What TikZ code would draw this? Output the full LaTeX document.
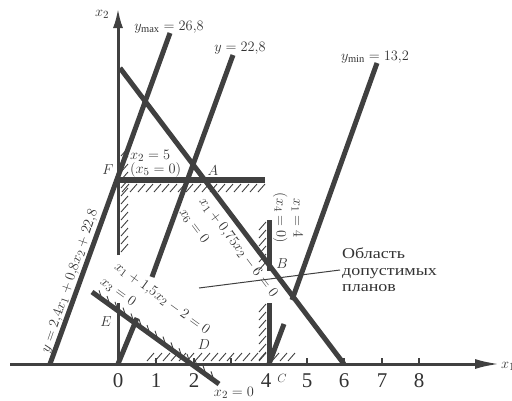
\documentclass[tikz,border=0pt]{standalone}
\usepackage{fontspec}
\setmainfont{Liberation Serif}
\newfontfamily\cyr[FakeStretch=1.2]{Liberation Serif}
\usetikzlibrary{arrows.meta}
\definecolor{ink}{HTML}{404040}
\definecolor{txt}{HTML}{333333}
\begin{document}
\begin{tikzpicture}[x=1pt,y=-1pt,
  thickln/.style={line width=5pt, draw=ink},
  axisln/.style={line width=3pt, draw=ink},
  tickln/.style={line width=2pt, draw=ink},
  hatchln/.style={line width=0.9pt, draw=ink},
  thinln/.style={line width=1pt, draw=ink},
  lbl/.style={text=txt, font=\fontsize{15}{17}\selectfont, inner sep=0pt},
  ticklbl/.style={text=txt, font=\fontsize{21}{24}\selectfont, inner sep=0pt},
]
\useasboundingbox (0,0) rectangle (512,400);
% coordinates
\coordinate (O) at (118,364);
\coordinate (xs) at (10,364);
\coordinate (xe) at (500,364);
\coordinate (ye) at (118,8);
\coordinate (yg1) at (118,255);
\coordinate (yg2) at (118,303);
\coordinate (L1a) at (120,68);
\coordinate (L1b) at (344,364);
\coordinate (YMa) at (170,33);
\coordinate (YMb) at (50,364);
\coordinate (Y2a) at (233,55);
\coordinate (Y2b) at (152,277);
\coordinate (Y2c) at (137,318);
\coordinate (YNa) at (377,63);
\coordinate (YNb) at (292,300);
\coordinate (YNc) at (284,324);
\coordinate (Cpt) at (269,364);
\coordinate (H1) at (118,180);
\coordinate (H2) at (265,180);
\coordinate (V1) at (269,220);
\coordinate (V2) at (269,271);
\coordinate (V3) at (269,303);
\coordinate (L3a) at (92,292);
\coordinate (L3b) at (219,384);
\coordinate (P1) at (199,288);
\coordinate (P2) at (340,270);

% hatching
\foreach \x in {122,130,...,258} \draw[hatchln] (\x,192) -- (\x+7,184);
\foreach \y in {148,156,...,246} \draw[hatchln] (121,\y+8) -- (128,\y);
\foreach \y in {222,230,...,262} \draw[hatchln] (259,\y+8) -- (266,\y);
\foreach \y in {304,312,...,352} \draw[hatchln] (259,\y+8) -- (266,\y);
\foreach \x in {147,155,...,259} \draw[hatchln] (\x,361) -- (\x+7,353);
\foreach \x in {272,280,288} \draw[hatchln] (\x,361) -- (\x+7,353);
\foreach \x in {102,110,...,214} \draw[hatchln] (\x,{292+(\x-92)*0.7244}) -- ++(-3,-9);

% axes
\draw[axisln,-{Latex[length=25pt,width=10pt]}] (xs) -- (xe);
\draw[axisln] (O) -- (yg2);
\draw[axisln,-{Latex[length=20pt,width=10pt]}] (yg1) -- (ye);
\foreach \x in {156,194,231,307,344,382,419} \draw[tickln] (\x,364) -- (\x,358);

% thick lines
\draw[thickln] (L1a) -- (L1b);
\draw[thickln] (YMa) -- (YMb);
\draw[thickln] (Y2a) -- (Y2b);
\draw[thickln] (Y2c) -- (O);
\draw[thickln] (YNa) -- (YNb);
\draw[thickln] (YNc) -- (Cpt);
\draw[thickln,line width=6pt] (H1) -- (H2);
\draw[thickln] (V1) -- (V2);
\draw[thickln] (V3) -- (Cpt);
\draw[thickln] (L3a) -- (L3b);
\draw[thinln] (P1) -- (P2);

% labels
\node[lbl] (lx2) at (102,14) {$x_2$};
\node[lbl,anchor=west] (lx1) at (501,366) {$x_1$};
\node[lbl] (lymax) at (169,27) {$y_{\max}=26{,}8$};
\node[lbl] (ly22) at (240,48) {$y=22{,}8$};
\node[lbl] (lymin) at (375,57) {$y_{\min}=13{,}2$};
\node[lbl,anchor=west] (lx25) at (130,156) {$x_2=5$};
\node[lbl,anchor=west] (lx50) at (130,170) {$(x_5=0)$};
\node[lbl] (lF) at (108,170) {$F$};
\node[lbl] (lA) at (213,171) {$A$};
\node[lbl,rotate=-53] (lL1) at (238,248) {$x_1+0{,}75x_2-6=0$};
\node[lbl,rotate=-53] (lx6) at (194,226) {$x_6=0$};
\node[lbl,rotate=-90,align=center] (lx14) at (288,218) {$x_1=4$\\$(x_4=0)$};
\node[lbl] (lB) at (282,264) {$B$};
\node[lbl,rotate=-36] (lL3) at (162,299) {$x_1+1{,}5x_2-2=0$};
\node[lbl,rotate=-36] (lx3) at (118,292) {$x_3=0$};
\node[lbl] (lE) at (106,322) {$E$};
\node[lbl] (lD) at (204,345) {$D$};
\node[lbl] (lx20) at (234,393) {$x_2=0$};
\node[lbl,font=\fontsize{13}{15}\selectfont] (lC) at (282,378) {$C$};
\node[lbl,rotate=71] (lobj) at (70,281) {$y=2{,}4x_1+0{,}8x_2+22{,}8$};
\node[lbl,anchor=west,align=left,font=\cyr\fontsize{15}{16.5}\selectfont] (reg) at (342,270) {Область\\допустимых\\планов};

\node[ticklbl] (t0) at (118,381) {0};
\node[ticklbl] (t1) at (156,381) {1};
\node[ticklbl] (t2) at (194,381) {2};
\node[ticklbl] (t4) at (266,381) {4};
\node[ticklbl] (t5) at (307,381) {5};
\node[ticklbl] (t6) at (344,381) {6};
\node[ticklbl] (t7) at (382,381) {7};
\node[ticklbl] (t8) at (419,381) {8};
\end{tikzpicture}
\end{document}
